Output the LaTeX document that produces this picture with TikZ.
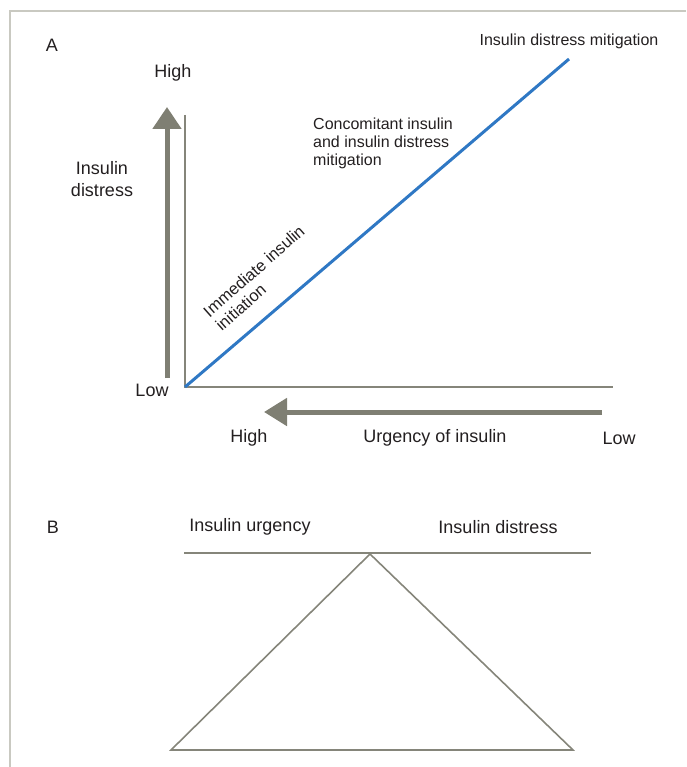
\documentclass[tikz,border=0pt]{standalone}
\usepackage{fontspec}
\setmainfont{Liberation Sans}
\usetikzlibrary{arrows.meta}
\definecolor{framegray}{HTML}{C9C9C1}
\definecolor{axisgray}{HTML}{85857A}
\definecolor{arrowgray}{HTML}{7F7F73}
\definecolor{lineblue}{HTML}{2F78C4}
\definecolor{txt}{HTML}{231F20}
\begin{document}
\begin{tikzpicture}[x=1pt,y=-1pt,
  lbl/.style={text=txt,inner sep=0pt,font=\fontsize{18}{22}\selectfont},
  sml/.style={text=txt,inner sep=0pt,font=\fontsize{16}{18}\selectfont},
  axisline/.style={draw=axisgray,line width=1.6pt},
  bigarrow/.style={draw=arrowgray,line width=5pt,-{Triangle[length=22pt,width=28pt]}}]
\useasboundingbox (0,0) rectangle (686,767);
% frame
\coordinate (fbl) at (10,767);
\coordinate (ftl) at (10,11);
\coordinate (ftr) at (686,11);
\draw[framegray,line width=1.5pt] (fbl) -- (ftl) -- (ftr);
% panel A
\node[lbl] (la) at (52,45) {A};
\node[lbl] (yhigh) at (173,73) {High};
\node[lbl,align=center] (ylab) at (102,179) {Insulin\\distress};
\node[lbl] (ylow) at (152,390) {Low};
\node[lbl] (xhigh) at (249,438) {High};
\node[lbl] (xlab) at (435,438) {Urgency of insulin};
\node[lbl] (xlow) at (619,438) {Low};
\coordinate (o) at (185,387);
\coordinate (ytop) at (185,115);
\coordinate (xend) at (613,387);
\coordinate (lend) at (569,59);
\draw[axisline] (ytop) -- (o) -- (xend);
\draw[lineblue,line width=3pt] (o) -- (lend);
\coordinate (vs) at (167,378);
\coordinate (ve) at (167,107);
\draw[bigarrow] (vs) -- (ve);
\coordinate (hs) at (602,412);
\coordinate (he) at (264,412);
\draw[bigarrow,-{Triangle[length=23pt,width=27pt]}] (hs) -- (he);
\node[sml] (mitig) at (569,41) {Insulin distress mitigation};
\node[sml,align=left,anchor=west] (conc) at (313,143) {Concomitant insulin\\and insulin distress\\mitigation};
\node[sml,align=left,rotate=41.5,font=\fontsize{16.5}{18.5}\selectfont] (imm) at (260,278) {Immediate insulin\\initiation};
% panel B
\node[lbl] (lb) at (53,527) {B};
\node[lbl] (urg) at (250,527) {Insulin urgency};
\node[lbl] (dis) at (498,527) {Insulin distress};
\coordinate (bl) at (184,553);
\coordinate (br) at (591,553);
\draw[axisline] (bl) -- (br);
\coordinate (apex) at (370,554);
\coordinate (tl) at (171,750);
\coordinate (tr) at (573,750);
\draw[axisline,line join=miter] (apex) -- (tr) -- (tl) -- cycle;
\end{tikzpicture}
\end{document}
